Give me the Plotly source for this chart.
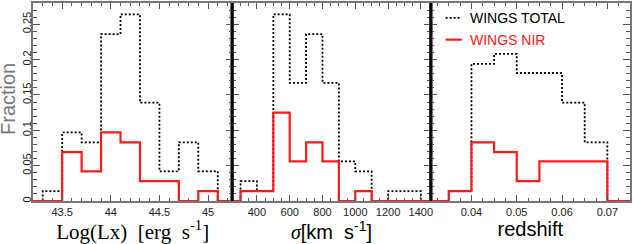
import plotly.graph_objects as go

# ---- data (fractions) ----
lx_edges = [43.1, 43.3, 43.5, 43.7, 43.9, 44.1, 44.3, 44.5, 44.7, 44.9, 45.1, 45.3, 45.5]
lx_total = [0.0, 0.014, 0.097, 0.083, 0.236, 0.264, 0.139, 0.042, 0.083, 0.042, 0.0, 0.0]
lx_nir   = [0.0, 0.0, 0.069, 0.042, 0.097, 0.083, 0.028, 0.028, 0.0, 0.014, 0.0, 0.0]

sig_edges = [200, 300, 400, 500, 600, 700, 800, 900, 1000, 1100, 1200, 1300, 1400, 1500]
sig_total = [0.0, 0.028, 0.014, 0.264, 0.167, 0.236, 0.167, 0.056, 0.042, 0.0, 0.014, 0.014, 0.0]
sig_nir   = [0.0, 0.014, 0.014, 0.125, 0.056, 0.083, 0.056, 0.0, 0.014, 0.0, 0.0, 0.0, 0.0]

z_edges = [0.030, 0.035, 0.040, 0.045, 0.050, 0.055, 0.060, 0.065, 0.070, 0.075]
z_total = [0.0, 0.014, 0.194, 0.208, 0.181, 0.181, 0.139, 0.083, 0.0]
z_nir   = [0.0, 0.014, 0.083, 0.069, 0.028, 0.056, 0.056, 0.056, 0.0]

y_ticks = [0, 0.05, 0.1, 0.15, 0.2, 0.25]
y_ticklabels = ["0", "0.05", "0.1", "0.15", "0.2", "0.25"]
lx_ticks = [43.5, 44, 44.5, 45]
lx_ticklabels = ["43.5", "44", "44.5", "45"]
sig_ticks = [400, 600, 800, 1000, 1200, 1400]
z_ticks = [0.04, 0.05, 0.06, 0.07]
z_ticklabels = ["0.04", "0.05", "0.06", "0.07"]

RED = "#ff1a1a"
AX = "#555555"
TXT = "#222222"
DOT = "2px,2px"
SANS = "Liberation Sans, Arial, sans-serif"
SERIF = "Liberation Serif, Times New Roman, serif"

fig = go.Figure()

def steps(edges, vals):
    return list(edges), list(vals) + [vals[-1]]

panels = [
    (lx_edges, lx_total, lx_nir, "x", "y"),
    (sig_edges, sig_total, sig_nir, "x2", "y2"),
    (z_edges, z_total, z_nir, "x3", "y3"),
]
for i, (e, t, n, xa, ya) in enumerate(panels):
    xs, ys = steps(e, t)
    fig.add_trace(go.Scatter(x=xs, y=ys, mode="lines", line=dict(shape="hv", color="black", width=1.8, dash=DOT),
                             name="WINGS TOTAL", xaxis=xa, yaxis=ya, showlegend=False))
    xs, ys = steps(e, n)
    fig.add_trace(go.Scatter(x=xs, y=ys, mode="lines", line=dict(shape="hv", color=RED, width=2.2),
                             name="WINGS NIR", xaxis=xa, yaxis=ya, showlegend=False))

d1 = 200 / 599
d2 = 399 / 599

common_x = dict(showgrid=False, zeroline=False, ticks="inside", ticklen=6, tickwidth=1.3, tickcolor=AX,
                showline=True, linecolor="#777777", linewidth=1.6, mirror="allticks",
                tickfont=dict(family=SANS, size=11, color=TXT))
common_y = dict(showgrid=False, zeroline=False, ticks="inside", ticklen=7, tickwidth=1.3, tickcolor=AX,
                showline=True, linecolor="#777777", linewidth=1.6, mirror="allticks", range=[0, 0.28],
                tickvals=y_ticks, ticktext=y_ticklabels,
                minor=dict(dtick=0.01, tick0=0, ticklen=4, tickwidth=1.2, tickcolor=AX, ticks="inside"))

fig.update_layout(
    width=633, height=244,
    margin=dict(l=33, r=1, t=1, b=43),
    paper_bgcolor="white", plot_bgcolor="white",
    xaxis=dict(common_x, domain=[0, d1], range=[43.2, 45.25], tickvals=lx_ticks, ticktext=lx_ticklabels,
               minor=dict(dtick=0.1, tick0=43.0, ticklen=3, tickwidth=1.2, ticks="inside", tickcolor=AX),
               title=dict(text="Log(Lx)  [erg  s<sup>-1</sup>]", standoff=1,
                          font=dict(family=SERIF, size=21, color="black"))),
    xaxis2=dict(common_x, domain=[d1, d2], range=[250, 1460], tickvals=sig_ticks,
                minor=dict(dtick=50, tick0=0, ticklen=3, tickwidth=1.2, ticks="inside", tickcolor=AX),
                title=dict(text="<span style='font-family:Liberation Serif'><i>σ</i></span>[km  s<sup>-1</sup>]", standoff=1,
                           font=dict(family=SANS, size=20, color="black"))),
    xaxis3=dict(common_x, domain=[d2, 1], range=[0.031, 0.075], tickvals=z_ticks, ticktext=z_ticklabels,
                minor=dict(dtick=0.0025, tick0=0.03, ticklen=3, tickwidth=1.2, ticks="inside", tickcolor=AX),
                title=dict(text="redshift", standoff=1,
                           font=dict(family=SANS, size=20, color="black"))),
    yaxis=dict(common_y, anchor="x", tickangle=-90, ticklabelstandoff=-4,
               tickfont=dict(family=SANS, size=11, color=TXT)),
    yaxis2=dict(common_y, anchor="x2", showticklabels=False),
    yaxis3=dict(common_y, anchor="x3", showticklabels=False),
    showlegend=False,
)

# y-axis title as a rotated annotation so it sits left of the tick labels
fig.add_annotation(xref="paper", yref="paper", x=0, y=0.5, xshift=-25, yshift=3, text="Fraction",
                   textangle=-90, showarrow=False, xanchor="center", yanchor="middle",
                   font=dict(family=SANS, size=20, color="#777777"))

# thick black panel dividers
for d in (d1, d2):
    fig.add_shape(type="line", xref="paper", yref="paper", x0=d, x1=d, y0=0, y1=1,
                  line=dict(color="black", width=2.5), layer="above")

# legend (drawn manually to match compact sample lines)
leg = [("WINGS TOTAL", "black", DOT, 1.8, 0.925), ("WINGS NIR", RED, "solid", 2.2, 0.815)]
for label, col, dash, w, yy in leg:
    fig.add_shape(type="line", xref="paper", yref="paper", x0=d2 + 0.025, x1=d2 + 0.052, y0=yy, y1=yy,
                  line=dict(color=col, width=w, dash=dash))
    fig.add_annotation(xref="paper", yref="paper", x=d2 + 0.062, y=yy, text=label, showarrow=False,
                       xanchor="left", yanchor="middle",
                       font=dict(family=SANS, size=14, color=col))

fig.write_html("out.html", config={"displayModeBar": False},
               post_script="document.body.style.margin='0px';")
